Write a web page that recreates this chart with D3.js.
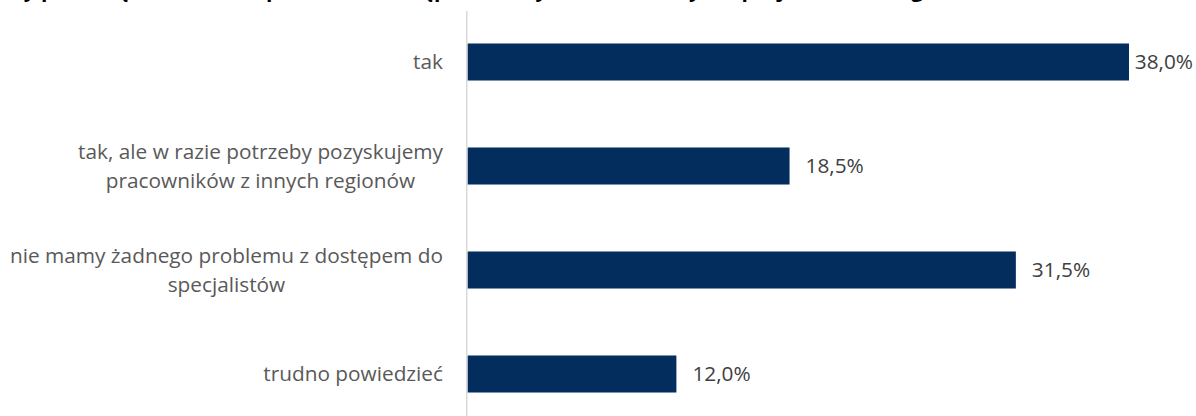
<!DOCTYPE html>
<html lang="pl">
<head>
<meta charset="utf-8">
<script src="https://cdn.jsdelivr.net/npm/d3@7"></script>
<style>
  html, body { margin: 0; padding: 0; background: #fff; }
  svg { display: block; }
  text { font-family: "Open Sans", Lato, sans-serif; }
</style>
</head>
<body>
<svg id="chart" width="1196" height="416"></svg>
<script>
// Survey answers and their shares
const categories = [
  "tak",
  "tak, ale w razie potrzeby pozyskujemy pracowników z innych regionów",
  "nie mamy żadnego problemu z dostępem do specjalistów",
  "trudno powiedzieć"
];
const categoryLines = [
  ["tak"],
  ["tak, ale w razie potrzeby pozyskujemy", "pracowników z innych regionów"],
  ["nie mamy żadnego problemu z dostępem do", "specjalistów"],
  ["trudno powiedzieć"]
];
const shares = [0.38, 0.185, 0.315, 0.12];
const titleText = "Czy przedsiębiorstwo ma problem z dostępem do wykwalifikowanych specjalistów w regionie?";

const svg = d3.select("#chart");
const W = 1196, H = 416;
const plot = { left: 467.5, top: 10, bottom: 426 };
const labelRight = 443;
const fontSize = 20.8;

const y = d3.scaleBand()
  .domain(categories)
  .range([plot.top, plot.bottom])
  .paddingInner(0.644)
  .paddingOuter(0.322);

const x = d3.scaleLinear()
  .domain([0, 0.38])
  .range([plot.left, 1129]);

const fmt = v => d3.format(".1f")(v * 100).replace(".", ",") + "%";

// Title (sits above the visible area)
svg.append("text")
  .attr("x", 0)
  .attr("y", -3)
  .attr("font-size", 21)
  .attr("font-weight", "bold")
  .attr("fill", "#000")
  .text(titleText);

// Bars
svg.append("g").selectAll("rect")
  .data(categories)
  .join("rect")
  .attr("x", x(0))
  .attr("y", d => y(d))
  .attr("width", (d, i) => x(shares[i]) - x(0))
  .attr("height", y.bandwidth())
  .attr("fill", "#022d5d");

// Category axis line
svg.append("line")
  .attr("x1", x(0) - 0.75).attr("x2", x(0) - 0.75)
  .attr("y1", 11).attr("y2", H)
  .attr("stroke", "#d9d9d9")
  .attr("stroke-width", 1.5);

// Category labels, right-aligned; wrapped lines centred under the first
const lineH = 29;
const labels = svg.append("g").selectAll("text")
  .data(categories)
  .join("text")
  .attr("font-size", fontSize)
  .attr("fill", "#595959");

labels.each(function (d, i) {
  const lines = categoryLines[i];
  const cy = y(d) + y.bandwidth() / 2;
  const t = d3.select(this);
  const spans = lines.map((ln, k) => t.append("tspan")
    .attr("x", labelRight)
    .attr("text-anchor", "end")
    .attr("y", cy + (k - (lines.length - 1) / 2) * lineH)
    .attr("dy", "0.35em")
    .text(ln));
  if (spans.length > 1) {
    const centre = labelRight - spans[0].node().getComputedTextLength() / 2;
    spans.slice(1).forEach(s => s.attr("x", centre).attr("text-anchor", "middle"));
  }
});

// Value labels: placed past the bar end, pulled back if they would run off the edge
svg.append("g").selectAll("text")
  .data(categories)
  .join("text")
  .attr("y", d => y(d) + y.bandwidth() / 2)
  .attr("dy", "0.35em")
  .attr("font-size", fontSize)
  .attr("fill", "#404040")
  .text((d, i) => fmt(shares[i]))
  .attr("x", function (d, i) {
    const w = this.getComputedTextLength();
    return Math.min(x(shares[i]) + 16, Math.max(x(shares[i]) + 4, W - 3 - w));
  });
</script>
</body>
</html>
